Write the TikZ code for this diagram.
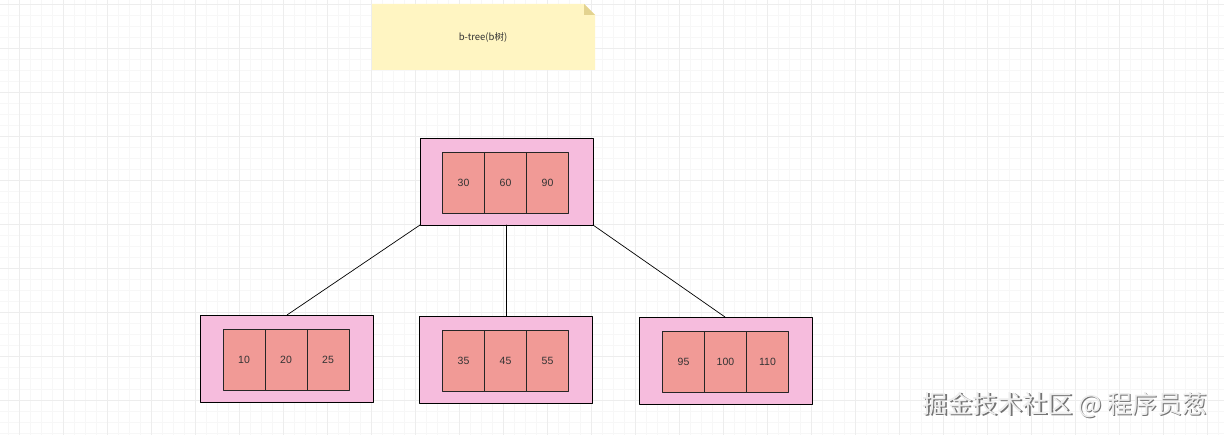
\documentclass[tikz,border=0pt]{standalone}
\usepackage{fontspec}
\setmainfont{Liberation Sans}
\newfontfamily\cjk{Noto Sans CJK SC}
\usetikzlibrary{calc}

\definecolor{gridminor}{HTML}{F7F7F7}
\definecolor{gridmajor}{HTML}{EDEDED}
\definecolor{notefill}{HTML}{FFF5C2}
\definecolor{notefold}{HTML}{E3D390}
\definecolor{outerfill}{HTML}{F6BCDD}
\definecolor{cellfill}{HTML}{F19A96}
\definecolor{marktext}{HTML}{EDEDED}

\tikzset{
  outerbox/.style={draw=black,fill=outerfill,line width=0.8pt},
  cellbox/.style={draw=black!85,fill=cellfill,line width=0.8pt,minimum width=42pt,minimum height=61pt,inner sep=0pt,font=\fontsize{10.5}{12}\selectfont,text=black!80},
  link/.style={line width=0.7pt,draw=black}
}

\begin{document}
\begin{tikzpicture}[x=1pt,y=-1pt,line cap=round,line join=round]
\useasboundingbox[fill=white] (0,0) rectangle (1224,435);
% background grid
\foreach \gx in {8,19,...,1224} \draw[gridminor,line width=0.5pt] (\gx,0) -- (\gx,435);
\foreach \gy in {4,15,...,435} \draw[gridminor,line width=0.5pt] (0,\gy) -- (1224,\gy);
\foreach \gx in {19,63,...,1224} \draw[gridmajor,line width=0.7pt] (\gx,0) -- (\gx,435);
\foreach \gy in {4,48,...,435} \draw[gridmajor,line width=0.7pt] (0,\gy) -- (1224,\gy);

% note
\fill[notefill] (372,4) -- (584,4) -- (595,15) -- (595,70) -- (372,70) -- cycle;
\fill[notefold] (584,4) -- (595,15) -- (584,15) -- cycle;
\node[font=\cjk\fontsize{9.5}{11}\selectfont,text=black!80] (title) at (483,37) {b-tree(b树)};

% outer boxes
\draw[outerbox] (420,138) rectangle (593,225);
\draw[outerbox] (200,315) rectangle (373,402);
\draw[outerbox] (419,316) rectangle (592,403);
\draw[outerbox] (639,317) rectangle (812,404);
\coordinate (rootL) at (420,225);
\coordinate (rootM) at (506,225);
\coordinate (rootR) at (593,225);
\coordinate (leftT) at (287,315);
\coordinate (midT) at (506,316);
\coordinate (rightT) at (725,317);

% root keys
\node[cellbox] (r1) at (463.5,182.5) {30};
\node[cellbox] (r2) at (505.5,182.5) {60};
\node[cellbox] (r3) at (547.5,182.5) {90};
% left keys
\node[cellbox] (a1) at (244,359.5) {10};
\node[cellbox] (a2) at (286,359.5) {20};
\node[cellbox] (a3) at (328,359.5) {25};
% middle keys
\node[cellbox] (b1) at (463.5,360.5) {35};
\node[cellbox] (b2) at (505.5,360.5) {45};
\node[cellbox] (b3) at (547.5,360.5) {55};
% right keys
\node[cellbox] (c1) at (683.5,361.5) {95};
\node[cellbox] (c2) at (725.5,361.5) {100};
\node[cellbox] (c3) at (767.5,361.5) {110};

% links
\draw[link] (rootL) -- (leftT);
\draw[link] (rootM) -- (midT);
\draw[link] (rootR) -- (rightT);

% watermark
\node[font=\cjk\fontsize{25}{28}\selectfont,text=black!55] (markshadow) at (1066.5,406.5) {掘金技术社区 @ 程序员葱};
\node[font=\cjk\fontsize{25}{28}\selectfont,text=marktext] (mark) at (1065,405) {掘金技术社区 @ 程序员葱};
\end{tikzpicture}
\end{document}
